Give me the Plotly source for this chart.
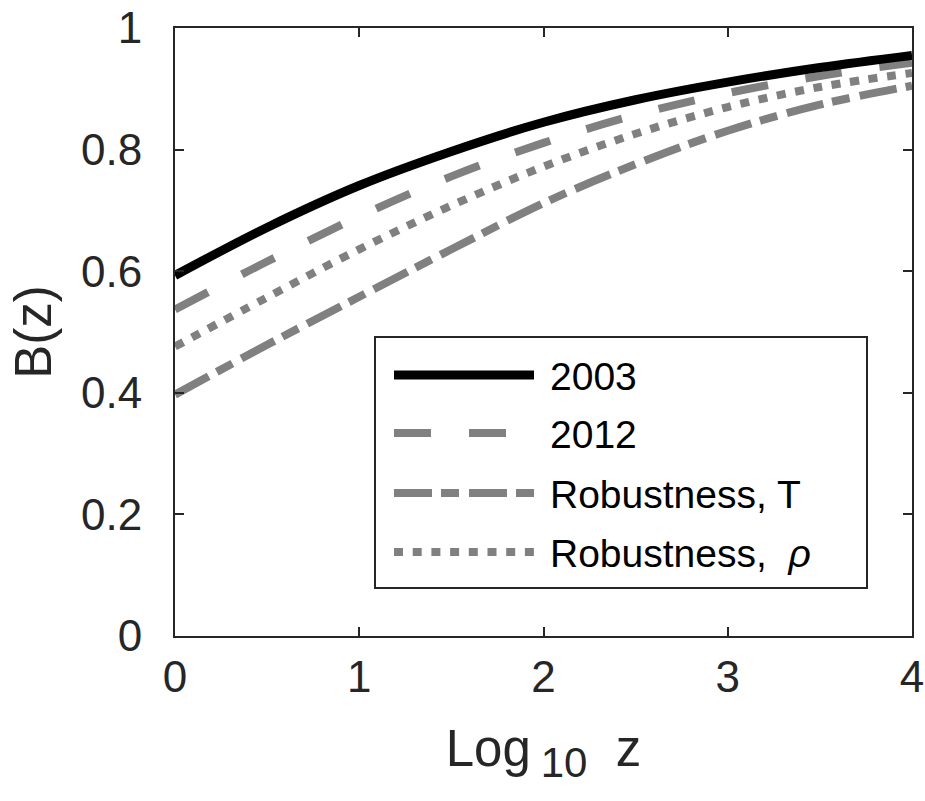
import plotly.graph_objects as go

# ---- data ----
log10_z = [0, 0.5, 1, 1.5, 2, 2.5, 3, 3.5, 4]
b_2003 = [0.593, 0.672, 0.741, 0.797, 0.845, 0.882, 0.911, 0.935, 0.955]
b_2012 = [0.537, 0.616, 0.690, 0.756, 0.811, 0.857, 0.893, 0.921, 0.943]
b_rob_T = [0.397, 0.479, 0.558, 0.636, 0.712, 0.776, 0.831, 0.874, 0.905]
b_rob_rho = [0.476, 0.557, 0.636, 0.708, 0.772, 0.826, 0.870, 0.903, 0.926]

x_ticks = [0, 1, 2, 3, 4]
y_ticks = [0, 0.2, 0.4, 0.6, 0.8, 1]
y_tick_labels = ["0", "0.2", "0.4", "0.6", "0.8", "1"]

series_names = ["2003", "2012", "Robustness, T", "Robustness,\u00a0\u00a0<i>ρ</i>"]

GRAY = "#808080"
AX = "#262626"
FONT = "Liberation Sans, Arial, sans-serif"

styles = [
    dict(color="#000000", width=9, dash="solid"),
    dict(color=GRAY, width=8, dash="37px,38px"),
    dict(color=GRAY, width=8, dash="38px,9px,18px,10px"),
    dict(color=GRAY, width=8, dash="9px,9.7px"),
]
series = [b_2003, b_2012, b_rob_T, b_rob_rho]

fig = go.Figure()
# draw in an order so the black line sits on top
for idx in [3, 2, 1, 0]:
    fig.add_trace(go.Scatter(
        x=log10_z, y=series[idx], mode="lines", name=series_names[idx],
        line=dict(shape="spline", **styles[idx]), showlegend=False,
    ))

W, H = 925, 801
L, T, R, B = 175, 28, 13, 165
pw, ph = W - L - R, H - T - B

def px(xp):  # screen px -> paper
    return (xp - L) / pw

def py(yp):
    return (H - B - yp) / ph

shapes = []
annotations = []
# legend box
shapes.append(dict(type="rect", xref="paper", yref="paper",
                   x0=px(375), x1=px(867), y0=py(588), y1=py(337),
                   line=dict(color=AX, width=2), fillcolor="white", layer="above"))
rows = [375, 433, 493, 552]
for i, yr in enumerate(rows):
    st = styles[i]
    shapes.append(dict(type="line", xref="paper", yref="paper",
                       x0=px(394), x1=px(534), y0=py(yr), y1=py(yr),
                       line=dict(color=st["color"], width=st["width"], dash=st["dash"]),
                       layer="above"))
    annotations.append(dict(xref="paper", yref="paper", x=px(548), y=py(yr + 1),
                            xanchor="left", yanchor="middle", showarrow=False,
                            text=series_names[i],
                            font=dict(family=FONT, size=39, color="#000000")))

fig.update_layout(
    width=W, height=H,
    margin=dict(l=L, r=R, t=T, b=B, pad=0, autoexpand=False),
    paper_bgcolor="white", plot_bgcolor="white",
    font=dict(family=FONT, color=AX),
    shapes=shapes, annotations=annotations,
    showlegend=False,
)
fig.update_xaxes(
    range=[0, 4], tickvals=x_ticks, ticktext=[str(v) for v in x_ticks],
    ticks="inside", ticklen=9, tickwidth=2, tickcolor=AX,
    showline=True, linecolor=AX, linewidth=2, mirror="ticks",
    showgrid=False, zeroline=False, automargin=False,
    tickfont=dict(family=FONT, size=44, color=AX),
    ticklabelstandoff=1, ticklabeloverflow="allow",
    title=dict(text="Log<sub>\u00a0<span style='font-size:42px'>10</span></sub>\u00a0\u00a0z",
               font=dict(family=FONT, size=51, color=AX), standoff=31),
)
fig.update_yaxes(
    range=[0, 1], tickvals=y_ticks, ticktext=y_tick_labels,
    ticks="inside", ticklen=9, tickwidth=2, tickcolor=AX,
    showline=True, linecolor=AX, linewidth=2, mirror="ticks",
    showgrid=False, zeroline=False, automargin=False,
    tickfont=dict(family=FONT, size=44, color=AX),
    ticklabelstandoff=22, ticklabeloverflow="allow",
    title=dict(text="B(z)", font=dict(family=FONT, size=51, color=AX), standoff=13),
)

fig.write_html("out.html", config={"displayModeBar": False},
               post_script="document.body.style.margin='0';")
